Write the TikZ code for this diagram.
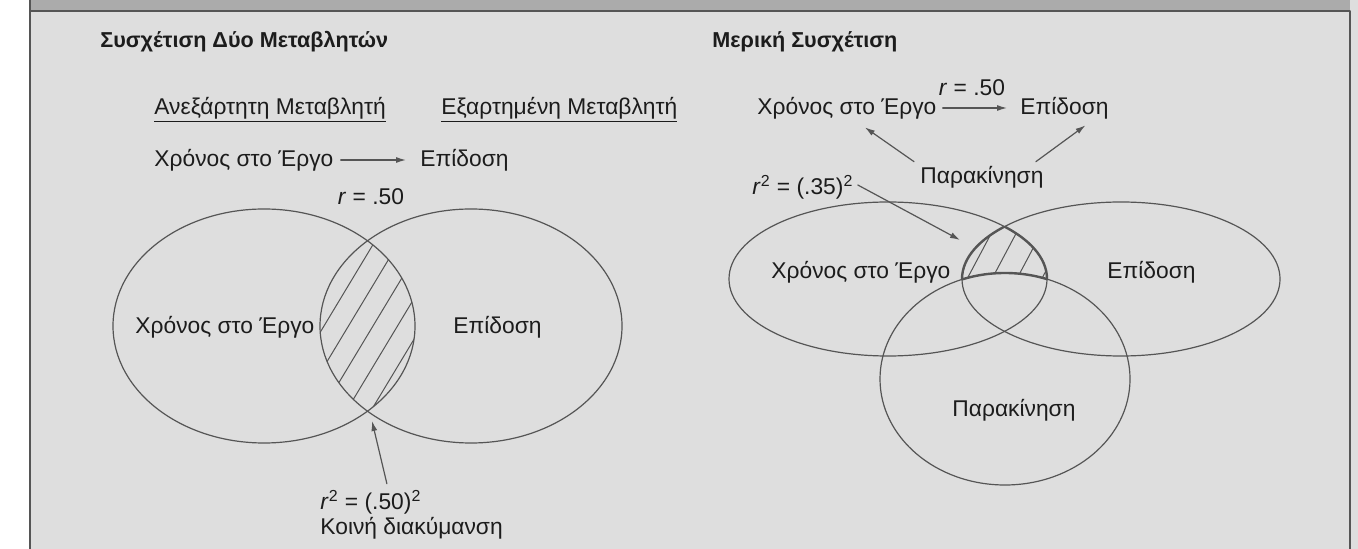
\documentclass[tikz,border=0pt]{standalone}
\usepackage{fontspec}
\setmainfont{Liberation Sans}
\usetikzlibrary{arrows.meta}
\definecolor{panelgray}{HTML}{DEDEDE}
\definecolor{bandgray}{HTML}{ABABAB}
\definecolor{inkgray}{HTML}{555555}
\definecolor{textink}{HTML}{1C1C1C}

\begin{document}
\begin{tikzpicture}[x=0.5pt, y=-0.5pt, line cap=round, line join=round,
  lbl/.style={anchor=west, inner sep=0pt, text=textink, font=\fontsize{11.4}{13.5}\selectfont},
  head/.style={lbl, font=\fontsize{10.8}{13}\selectfont\bfseries},
  venn/.style={draw=inkgray, line width=0.6pt},
  edge/.style={draw=inkgray, line width=1.2pt},
  hatch/.style={draw=inkgray, line width=0.5pt},
  conn/.style={draw=inkgray, line width=0.6pt, -{Latex[length=5pt,width=3pt]}}]

\useasboundingbox (0,0) rectangle (1358,549);

% panel and top band
\fill[panelgray] (30,0) rectangle (1358,549);
\fill[bandgray] (30,0) rectangle (1350,11);
\draw[inkgray, line width=0.8pt] (30,0) -- (30,549);
\draw[inkgray, line width=0.6pt] (30,11) -- (1350,11) -- (1350,549);

% ---- two variables ----
\node[head] (title1) at (100,42) {Συσχέτιση Δύο Μεταβλητών};
\node[lbl] (ivar) at (154,110) {\underline{Ανεξάρτητη Μεταβλητή}};
\node[lbl] (dvar) at (441,110) {\underline{Εξαρτημένη Μεταβλητή}};
\node[lbl] (time1) at (154,160) {Χρόνος στο Έργο};
\node[lbl] (perf1) at (420,160) {Επίδοση};
\draw[conn, shorten <=3.5pt, shorten >=7pt] (time1) -- (perf1);
\node[lbl, anchor=center] (r1) at (371,197) {\textit{r} = .50};

\coordinate (timeA) at (264,326);
\coordinate (perfA) at (471,326);
\begin{scope}
  \clip (timeA) ellipse [x radius=151, y radius=117];
  \clip (perfA) ellipse [x radius=151, y radius=117];
  \foreach \k in {-7,...,7}
    \draw[hatch, shift={(\k*18,\k*10.8)}] (225,531) -- (431,189);
\end{scope}
\draw[venn] (timeA) ellipse [x radius=151, y radius=117];
\draw[venn] (perfA) ellipse [x radius=151, y radius=117];
\node[lbl] (timeAl) at (135,327) {Χρόνος στο Έργο};
\node[lbl] (perfAl) at (453,327) {Επίδοση};

\node[lbl] (rsq1) at (320,502) {\textit{r}\textsuperscript{2} = (.50)\textsuperscript{2}};
\node[lbl] (shared) at (320,528) {Κοινή διακύμανση};
\coordinate (lensbot) at (372,421);
\draw[conn] ([xshift=8pt,yshift=3pt]rsq1.north) -- (lensbot);

% ---- partial correlation ----
\node[head] (title2) at (712,42) {Μερική Συσχέτιση};
\node[lbl] (time2) at (757,108) {Χρόνος στο Έργο};
\node[lbl] (perf2) at (1020,108) {Επίδοση};
\draw[conn, shorten <=3pt, shorten >=6.5pt] (time2) -- (perf2);
\node[lbl, anchor=center] (r2) at (972,88) {\textit{r} = .50};
\node[lbl] (mot) at (920,177) {Παρακίνηση};
\draw[conn] ([xshift=-3pt,yshift=2pt]mot.north west) -- ([xshift=9pt,yshift=-4pt]time2.south);
\draw[conn] ([xshift=-4pt,yshift=2pt]mot.north east) -- ([xshift=10.5pt,yshift=-3pt]perf2.south);
\node[lbl] (rsq2) at (752,187) {\textit{r}\textsuperscript{2} = (.35)\textsuperscript{2}};
\coordinate (lenstop) at (960,240);
\draw[conn] ([xshift=2pt,yshift=1pt]rsq2.east) -- (lenstop);

\coordinate (timeB) at (888,279);
\coordinate (perfB) at (1121,279);
\coordinate (motB) at (1005,379);
\begin{scope}[even odd rule]
  \clip (timeB) ellipse [x radius=159, y radius=77];
  \clip (perfB) ellipse [x radius=159, y radius=77];
  \clip (700,150) rectangle (1320,520) (motB) ellipse [x radius=125, y radius=106];
  \foreach \k in {-4,...,5}
    \draw[hatch, shift={(\k*19.4,\k*10.3)}] (921.7,364.3) -- (1015.5,187.7);
\end{scope}
\draw[venn] (timeB) ellipse [x radius=159, y radius=77];
\draw[venn] (perfB) ellipse [x radius=159, y radius=77];
\draw[venn] (motB) ellipse [x radius=125, y radius=106];
% heavier outline of the hatched part
\begin{scope}[even odd rule]
  \clip (timeB) ellipse [x radius=159, y radius=77];
  \clip (700,150) rectangle (1320,520) (motB) ellipse [x radius=125, y radius=106];
  \draw[edge] (perfB) ellipse [x radius=159, y radius=77];
\end{scope}
\begin{scope}[even odd rule]
  \clip (perfB) ellipse [x radius=159, y radius=77];
  \clip (700,150) rectangle (1320,520) (motB) ellipse [x radius=125, y radius=106];
  \draw[edge] (timeB) ellipse [x radius=159, y radius=77];
\end{scope}
\begin{scope}
  \clip (timeB) ellipse [x radius=159, y radius=77];
  \clip (perfB) ellipse [x radius=159, y radius=77];
  \draw[edge] (motB) ellipse [x radius=125, y radius=106];
\end{scope}
\node[lbl] (timeBl) at (771,272) {Χρόνος στο Έργο};
\node[lbl] (perfBl) at (1107,272) {Επίδοση};
\node[lbl] (motBl) at (952,410) {Παρακίνηση};

\end{tikzpicture}
\end{document}
